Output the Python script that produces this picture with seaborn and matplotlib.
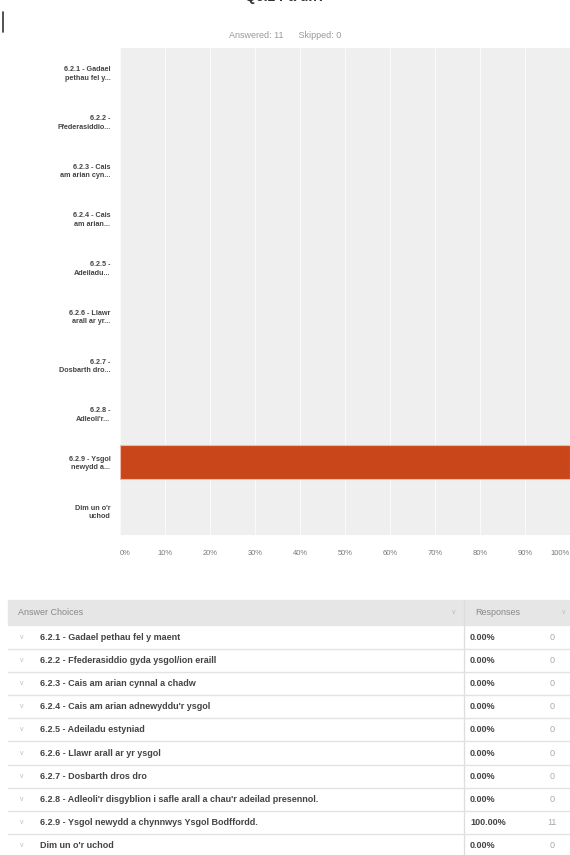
import matplotlib
matplotlib.use("Agg")
import matplotlib.pyplot as plt
import numpy as np
import pandas as pd
import seaborn as sns

# answer choices (short labels on the chart, full text in the table)
short_labels = [
    "6.2.1 - Gadael\npethau fel y...",
    "6.2.2 -\nFfederasiddio...",
    "6.2.3 - Cais\nam arian cyn...",
    "6.2.4 - Cais\nam arian...",
    "6.2.5 -\nAdeiladu...",
    "6.2.6 - Llawr\narall ar yr...",
    "6.2.7 -\nDosbarth dro...",
    "6.2.8 -\nAdleoli'r...",
    "6.2.9 - Ysgol\nnewydd a...",
    "Dim un o'r\nuchod",
]
full_labels = [
    "6.2.1 - Gadael pethau fel y maent",
    "6.2.2 - Ffederasiddio gyda ysgol/ion eraill",
    "6.2.3 - Cais am arian cynnal a chadw",
    "6.2.4 - Cais am arian adnewyddu'r ysgol",
    "6.2.5 - Adeiladu estyniad",
    "6.2.6 - Llawr arall ar yr ysgol",
    "6.2.7 - Dosbarth dros dro",
    "6.2.8 - Adleoli'r disgyblion i safle arall a chau'r adeilad presennol.",
    "6.2.9 - Ysgol newydd a chynnwys Ysgol Bodffordd.",
    "Dim un o'r uchod",
]
percents = [0, 0, 0, 0, 0, 0, 0, 0, 100, 0]
counts = [0, 0, 0, 0, 0, 0, 0, 0, 11, 0]
answered = 11
skipped = 0

sns.set_style("white")
plt.rcParams["font.family"] = ["Liberation Sans", "DejaVu Sans"]

W, H = 570, 855
fig = plt.figure(figsize=(W / 100, H / 100), dpi=100)

# ---- bar chart ----
ax = fig.add_axes([120 / W, 1 - 535 / H, 450 / W, 487 / H])
df = pd.DataFrame({"choice": short_labels, "pct": percents})
sns.barplot(data=df, x="pct", y="choice", orient="h", color="#C8461A",
            width=0.7, edgecolor="#F2B9A3", linewidth=0.8, saturation=1, ax=ax)
for p in ax.patches:
    if p.get_width() == 0:
        p.set_linewidth(0)
ax.set_facecolor("#EFEFEF")
ax.set_xlim(0, 100)
ax.set_xticks(np.arange(0, 101, 10))
ax.xaxis.grid(True, color="#FAFAFA", linewidth=0.8)
ax.set_axisbelow(True)
for s in ax.spines.values():
    s.set_visible(False)
ax.set_xlabel("")
ax.set_ylabel("")
ax.tick_params(axis="both", length=0)
ax.tick_params(axis="y", pad=7)
ax.tick_params(axis="x", pad=11)
ax.set_yticks(range(len(short_labels)))
ax.set_yticklabels(short_labels, fontsize=5.2, fontweight="bold", color="#444444",
                   ha="right", linespacing=1.3)
xt = ax.set_xticklabels([f"{v}%" for v in range(0, 101, 10)], fontsize=5.4, color="#777777")
xt[0].set_ha("left")
xt[-1].set_ha("right")

# ---- header text (question title is cut off at the top, as in the screenshot) ----
fig.text(285 / W, 1 + 3 / H, "Q6.2 Pa un?", ha="center", va="center",
         fontsize=10, fontweight="bold", color="#333333")
fig.text(285 / W, 1 - 35 / H, f"Answered: {answered}      Skipped: {skipped}",
         ha="center", va="center", fontsize=6.5, color="#999999")
fig.add_artist(plt.Line2D([3 / W, 3 / W], [1 - 12 / H, 1 - 32 / H], color="#333333", linewidth=1.2))

# ---- table ----
tab = fig.add_axes([0, 0, 1, 1], facecolor="none")
tab.set_xlim(0, W)
tab.set_ylim(H, 0)
tab.axis("off")
fs = 6.5
tab.add_patch(plt.Rectangle((8, 600), W - 8, 25, color="#E6E6E6", zorder=0))
tab.text(18, 612.5, "Answer Choices", fontsize=fs, color="#888888", va="center")
tab.text(475, 612.5, "Responses", fontsize=fs, color="#888888", va="center")
tab.text(452, 612.5, "v", fontsize=5, color="#BBBBBB", va="center")
tab.text(562, 612.5, "v", fontsize=5, color="#BBBBBB", va="center")
tab.plot([464, 464], [600, H], color="#DDDDDD", linewidth=0.9)
row_h = 23.2
for i, (lab, p, c) in enumerate(zip(full_labels, percents, counts)):
    yc = 637 + i * row_h
    tab.text(20, yc, "v", fontsize=5, color="#BBBBBB", va="center")
    tab.text(40, yc, lab, fontsize=fs, fontweight="bold", color="#444444", va="center")
    tab.text(470, yc, f"{p:.2f}%", fontsize=fs, fontweight="bold", color="#444444", va="center")
    tab.text(552, yc, str(c), fontsize=fs, color="#AAAAAA", va="center", ha="center")
    if i < len(full_labels) - 1:
        tab.plot([8, W], [yc + row_h / 2, yc + row_h / 2], color="#E2E2E2", linewidth=1.0)

fig.savefig("out.png", dpi=100)
